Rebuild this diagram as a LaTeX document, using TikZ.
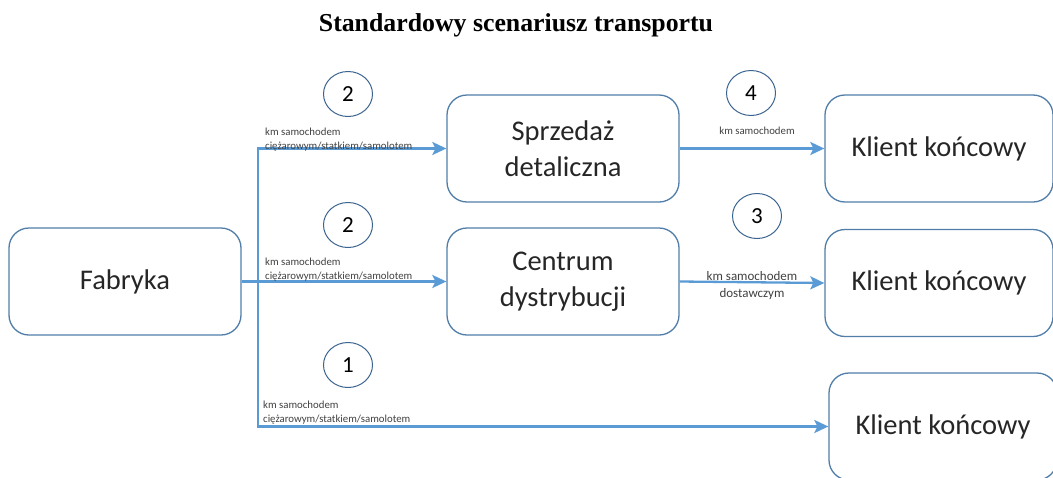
\documentclass[tikz,border=0pt]{standalone}
\usepackage{fontspec}
\setmainfont{Liberation Serif}
\newfontfamily\boxfont{Carlito}
\usetikzlibrary{arrows.meta,shapes.geometric}
\definecolor{boxline}{RGB}{80,126,168}
\definecolor{flow}{RGB}{91,155,213}
\definecolor{ringline}{RGB}{60,100,145}
\tikzset{
  stage/.style={draw=boxline, line width=1.3pt, rounded corners=20pt,
    minimum width=232pt, minimum height=107pt, align=center,
    font=\boxfont\fontsize{28.5}{36}\selectfont, text=black!85},
  ring/.style={draw=ringline, line width=1pt, ellipse, minimum width=49pt,
    minimum height=45pt, inner sep=0pt, font=\boxfont\fontsize{23}{23}\selectfont},
  note/.style={inner sep=0pt, font=\boxfont\fontsize{10.8}{14}\selectfont, text=black!75},
  bignote/.style={inner sep=0pt, font=\boxfont\fontsize{13}{17}\selectfont, text=black!75},
  flowline/.style={draw=flow, line width=2.3pt},
  arrow/.style={flowline, -{Stealth[length=14pt,width=13pt,inset=3pt]}},
}
\begin{document}
\begin{tikzpicture}[x=1pt,y=-1pt]
\useasboundingbox (0,0) rectangle (1053,477);
\clip (0,0) rectangle (1053,477);

% title
\node[font=\bfseries\fontsize{25.8}{30}\selectfont] (title) at (516,25) {Standardowy scenariusz transportu};

% stages
\node[stage] (fab) at (125,281.5) {Fabryka};
\node[stage] (spr) at (563,148.5) {Sprzedaż\\detaliczna};
\node[stage] (cen) at (563,281.5) {Centrum\\dystrybucji};
\node[stage, minimum width=228pt] (k1) at (939,148.5) {Klient końcowy};
\node[stage, minimum width=228pt] (k2) at (939,283) {Klient końcowy};
\node[stage, minimum width=228pt] (k3) at (943,426.5) {Klient końcowy};

% route numbers
\node[ring] (r2a) at (348,94) {2};
\node[ring] (r2b) at (348,225) {2};
\node[ring] (r1) at (348,365) {1};
\node[ring] (r4) at (751,93) {4};
\node[ring] (r3) at (757,216) {3};

% connectors
\coordinate (split) at (258,0 |- fab.east);
\draw[arrow] (fab.east) -- (cen.west);
\draw[arrow] (split) |- (spr.west);
\draw[arrow] (split) |- (k3.west);
\draw[arrow] (spr.east) -- (k1.west);
\draw[arrow] (cen.east) -- (k2.west);

% route labels
\node[note, anchor=west, align=left] (l2a) at (265,140) {km samochodem\\ciężarowym/statkiem/samolotem};
\node[note, anchor=west, align=left] (l2b) at (265,269.5) {km samochodem\\ciężarowym/statkiem/samolotem};
\node[note, anchor=west, align=left] (l1) at (263,413) {km samochodem\\ciężarowym/statkiem/samolotem};
\node[note] (l4) at (757,131) {km samochodem};
\node[bignote, align=center] (l3) at (752,286) {km samochodem\\dostawczym};
\end{tikzpicture}
\end{document}
